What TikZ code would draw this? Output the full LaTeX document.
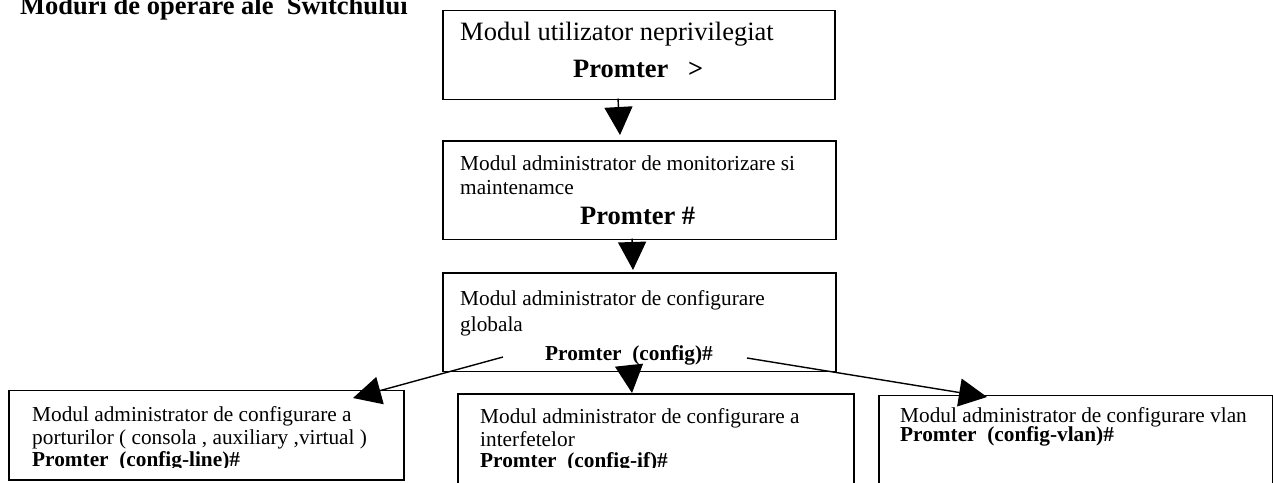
\documentclass[tikz,border=0pt]{standalone}
\usepackage{fontspec}
\setmainfont{Liberation Serif}
\usetikzlibrary{calc, arrows.meta}

\begin{document}
\begin{tikzpicture}[
    x=1pt, y=-1pt, % one unit per pixel, y pointing down
    >={Triangle[length=28pt, width=28pt]}, % big filled arrow heads
    modebox/.style={draw, line width=1.8pt, fill=white, anchor=north west, inner sep=0pt}, % frame of a mode
    modearrow/.style={->, line width=1.4pt}, % arrow between two modes
    bigtext/.style={anchor=base west, inner sep=0pt, font=\fontsize{26.5}{30}\selectfont}, % large text
    smalltext/.style={anchor=base west, inner sep=0pt, font=\fontsize{21.3}{24}\selectfont} % normal text
  ]

  \useasboundingbox (0,0) rectangle (1273,482);

  % --- Title ---
  \node[bigtext] (title) at (20,14.5) {\textbf{Moduri de operare ale\ \ Switchului}};

  % --- Mode boxes ---
  \node[modebox, minimum width=392pt, minimum height=89pt] (user) at (442,9.5) {}; % user mode
  \node[modebox, minimum width=393pt, minimum height=98.5pt] (monitor) at (442,140) {}; % privileged mode
  \node[modebox, minimum width=393pt, minimum height=98.5pt] (global) at (442,272) {}; % global config
  \node[modebox, minimum width=395pt, minimum height=89.5pt] (ports) at (8,389.5) {}; % line config
  \node[modebox, minimum width=396pt, minimum height=110pt] (ifaces) at (457,393) {}; % interface config
  \node[modebox, minimum width=393.5pt, minimum height=110pt] (vlan) at (878,394.5) {}; % vlan config

  % --- Texts in the boxes ---
  \node[bigtext] (user-name) at (460,40.5) {Modul utilizator neprivilegiat};
  \node[bigtext] (user-prompt) at (573,77) {\textbf{Promter\ \ \ >}};

  \node[smalltext] (monitor-name) at (460,170) {Modul administrator de monitorizare si};
  \node[smalltext] (monitor-name2) at (460,194) {maintenamce};
  \node[bigtext] (monitor-prompt) at (580,224) {\textbf{Promter \#}};

  \node[smalltext] (global-name) at (460,305) {Modul administrator de configurare};
  \node[smalltext] (global-name2) at (460,331) {globala};
  \node[smalltext] (global-prompt) at (545,360) {\textbf{Promter\ \ (config)\#}};

  \node[smalltext] (ports-name) at (32,421) {Modul administrator de configurare a};
  \node[smalltext] (ports-name2) at (32,444) {porturilor ( consola , auxiliary ,virtual )};

  \node[smalltext] (ifaces-name) at (480,423) {Modul administrator de configurare a};
  \node[smalltext] (ifaces-name2) at (480,446) {interfetelor};

  \node[smalltext] (vlan-name) at (900,422) {Modul administrator de configurare vlan};
  \node[smalltext] (vlan-prompt) at (900,441) {\textbf{Promter\ \ (config-vlan)\#}};

  % last lines are cut by the box frame
  \begin{scope}
    \clip (0,0) rectangle (1273,467.5);
    \node[smalltext] (ports-prompt) at (32,466) {\textbf{Promter\ \ (config-line)\#}};
    \node[smalltext] (ifaces-prompt) at (480,467) {\textbf{Promter\ \ (config-if)\#}};
  \end{scope}

  % --- Arrow ends ---
  \coordinate (user-out) at (618,98.5);
  \coordinate (monitor-in) at (620,135);
  \coordinate (monitor-out) at (632,238.5);
  \coordinate (global-in) at (633,270);
  \coordinate (global-left) at (503,357);
  \coordinate (global-mid) at (629,365);
  \coordinate (global-right) at (747,358);
  \coordinate (ports-in) at (353,398);
  \coordinate (ifaces-in) at (632,393);
  \coordinate (vlan-in) at (987,397);

  % --- Arrows ---
  \draw[modearrow] (user-out) -- (monitor-in);
  \draw[modearrow] (monitor-out) -- (global-in);
  \draw[modearrow] (global-left) -- (ports-in);
  \draw[modearrow] (global-mid) -- (ifaces-in);
  \draw[modearrow] (global-right) -- (vlan-in);

\end{tikzpicture}
\end{document}
